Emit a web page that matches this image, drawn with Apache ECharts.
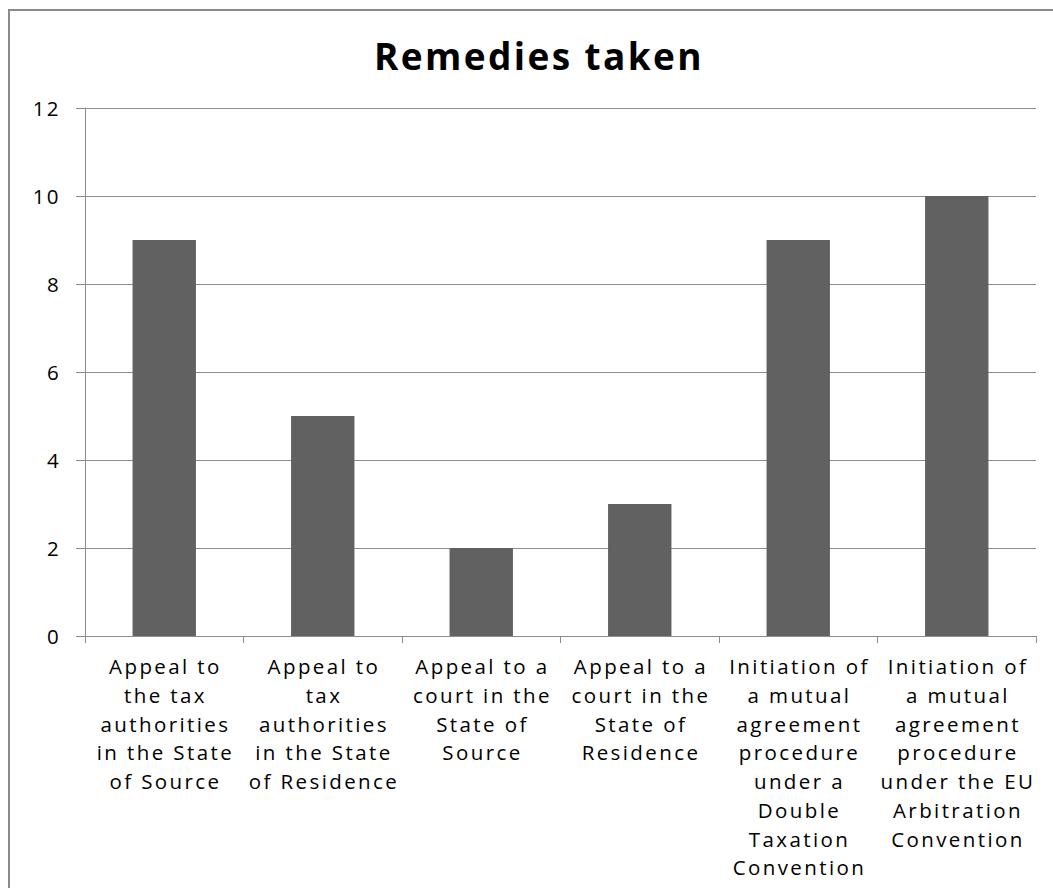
<!DOCTYPE html>
<html>
<head>
<meta charset="utf-8">
<script src="https://cdn.jsdelivr.net/npm/echarts@6/dist/echarts.min.js"></script>
<style>
  html, body { margin: 0; padding: 0; background: #ffffff; }
  #chart { width: 1053px; height: 888px; }
  /* wide, airy lettering for all chart text */
  #chart svg text { letter-spacing: 2.4px; }
</style>
</head>
<body>
<div id="chart"></div>
<script>
// Remedies taken — number of cases per remedy type
const categories = [
  "Appeal to\nthe tax\nauthorities\nin the State\nof Source",
  "Appeal to\ntax\nauthorities\nin the State\nof Residence",
  "Appeal to a\ncourt in the\nState of\nSource",
  "Appeal to a\ncourt in the\nState of\nResidence",
  "Initiation of\na mutual\nagreement\nprocedure\nunder a\nDouble\nTaxation\nConvention",
  "Initiation of\na mutual\nagreement\nprocedure\nunder the EU\nArbitration\nConvention"
];
const counts = [9, 5, 2, 3, 9, 10];
const chartTitle = "Remedies taken";

const FONT = "'Open Sans', sans-serif";

const chart = echarts.init(document.getElementById('chart'), null, { renderer: 'svg' });
chart.setOption({
  animation: false,
  backgroundColor: '#ffffff',
  title: {
    text: chartTitle,
    left: 534,
    top: 32,
    textAlign: 'center',
    textStyle: { fontFamily: FONT, fontWeight: 'bold', fontSize: 37, color: '#000000' }
  },
  graphic: [{
    type: 'rect',
    shape: { x: 9, y: 10, width: 1100, height: 950 },
    style: { fill: 'none', stroke: '#8a8a8a', lineWidth: 2 },
    silent: true,
    z: -1
  }],
  grid: { left: 85, top: 108, right: 17, bottom: 252 },
  xAxis: {
    type: 'category',
    data: categories,
    axisLine: { show: true, lineStyle: { color: '#8c8c8c', width: 1 } },
    axisTick: { show: true, length: 7, lineStyle: { color: '#8c8c8c' } },
    axisLabel: {
      interval: 0,
      margin: 16,
      padding: [0, 0, 0, 2.4],
      fontFamily: FONT,
      fontSize: 20.5,
      lineHeight: 28.7,
      color: '#000000',
      align: 'center'
    },
    splitLine: { show: false }
  },
  yAxis: {
    type: 'value',
    min: 0,
    max: 12,
    interval: 2,
    axisLine: { show: true, lineStyle: { color: '#8c8c8c', width: 1 } },
    axisTick: { show: true, length: 9, lineStyle: { color: '#8c8c8c' } },
    axisLabel: { margin: 24, fontFamily: FONT, fontSize: 20.5, color: '#000000' },
    splitLine: { show: true, lineStyle: { color: '#8c8c8c', width: 1 } }
  },
  series: [{
    type: 'bar',
    data: counts,
    barWidth: '40%',
    itemStyle: { color: '#616161' }
  }]
});

// the title gets a little more spacing than the axis text
chart.on('finished', function () {
  document.querySelectorAll('#chart svg text').forEach(function (t) {
    if (t.textContent === chartTitle) t.style.letterSpacing = '4.6px';
  });
});
</script>
</body>
</html>
